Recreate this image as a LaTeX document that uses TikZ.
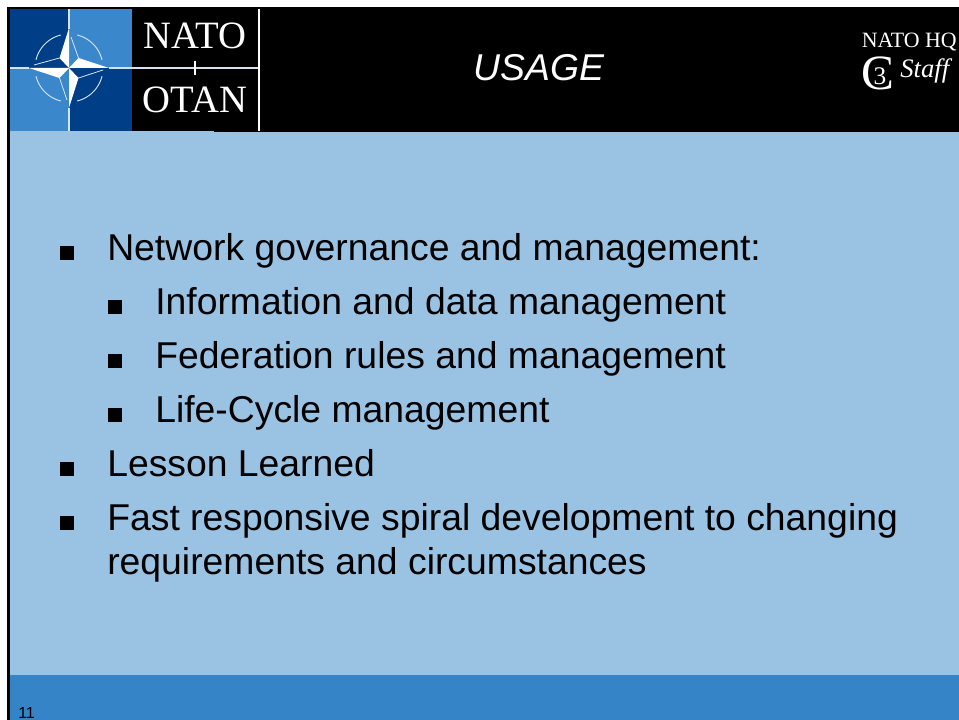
\documentclass[tikz,border=0pt]{standalone}
\usepackage{fontspec}
\setmainfont{Liberation Sans}
\newfontfamily\serifl{Liberation Serif}
\definecolor{bodyblue}{HTML}{9AC2E3}
\definecolor{footblue}{HTML}{3584C8}
\definecolor{navy}{HTML}{003F87}
\definecolor{logoblue}{HTML}{3A88CB}
\definecolor{pale}{HTML}{D5E3EF}
\tikzset{
  px/.style={x=0.75pt,y=-0.75pt},
  lineA/.style={anchor=base west,inner sep=0pt,font=\fontsize{28}{28}\selectfont,text=black},
  logoT/.style={anchor=base,inner sep=0pt,text=white,font=\serifl\fontsize{29}{29}\selectfont},
  thinout/.style={draw=pale,line width=.6pt},
}
\begin{document}
\begin{tikzpicture}[px]
\useasboundingbox (0,0) rectangle (959,720);
\fill[white] (0,0) rectangle (959,720);
\fill[black] (7,7) rectangle (959,132);
\fill[bodyblue] (10,132) rectangle (959,675);
\fill[bodyblue] (10,131) rectangle (214,132);
\fill[footblue] (10,675) rectangle (959,720);
\fill[black] (7,132) rectangle (10,720);
% logo
\fill[navy] (10,9) rectangle (69,68);
\fill[logoblue] (69,9) rectangle (132,68);
\fill[logoblue] (10,68) rectangle (69,131);
\fill[navy] (69,68) rectangle (132,131);
\draw[pale,line width=1pt] (69,9) -- (69,29) (69,108) -- (69,131);
\draw[pale,line width=1pt] (10,68) -- (29,68) (109,68) -- (259,68);
\foreach \a in {0,90,180,270}{
  \draw[pale,line width=.7pt] plot[domain=\a+14:\a+76,samples=24,variable=\t] ({69+34*cos(\t)},{68+34*sin(\t)});
}
% compass star: white halves
\fill[white] (69,28) -- (59.5,58) -- (69,68) -- cycle;
\fill[white] (109,68) -- (78.5,58) -- (69,68) -- cycle;
\fill[white] (69,108) -- (78.5,78) -- (69,68) -- cycle;
\fill[white] (29,68) -- (59.5,78) -- (69,68) -- cycle;
% outlined halves
\draw[thinout] (71,37) -- (78.5,58);
\draw[thinout] (103,70) -- (78.5,78);
\draw[thinout] (67,100) -- (59.5,78);
\draw[thinout] (34,65) -- (59.5,58);
\draw[white,line width=1pt] (259,9) -- (259,131);
\draw[white,line width=.8pt] (195,61) -- (195,75);
\node[logoT] (nato) at (195,49) {NATO};
\node[logoT] (otan) at (195,113) {OTAN};
\node[anchor=base,inner sep=0pt,text=white,font=\itshape\fontsize{28}{28}\selectfont] (title) at (539,80.5) {USAGE};
\node[anchor=base east,inner sep=0pt,text=white,font=\serifl\fontsize{16.4}{16.4}\selectfont] (hq) at (957,48) {NATO HQ};
\node[anchor=base west,inner sep=0pt,text=white,font=\serifl\itshape\fontsize{20}{20}\selectfont] (staff) at (900,78) {Staff};
\node[anchor=base,inner sep=0pt,text=white,font=\serifl\fontsize{37}{37}\selectfont] (cc) at (878,89.5) {C};
\node[anchor=base,inner sep=0pt,text=white,font=\serifl\fontsize{19}{19}\selectfont] (three) at (880,85) {3};
% bullets
\foreach \x/\y in {60/246,108/300,108/354,108/408,60/462,60/516}{\fill (\x,\y) rectangle ++(14,14);}
\node[lineA] (l1) at (107,260.5) {Network governance and management:};
\node[lineA] (l2) at (155,314.5) {Information and data management};
\node[lineA] (l3) at (155,368.5) {Federation rules and management};
\node[lineA] (l4) at (155,422.5) {Life-Cycle management};
\node[lineA] (l5) at (107,476.5) {Lesson Learned};
\node[lineA] (l6) at (107,530.5) {Fast responsive spiral development to changing};
\node[lineA] (l7) at (107,574.5) {requirements and circumstances};
\node[anchor=base west,inner sep=0pt,font=\fontsize{12}{12}\selectfont] (num) at (18,718.5) {11};
\end{tikzpicture}
\end{document}
